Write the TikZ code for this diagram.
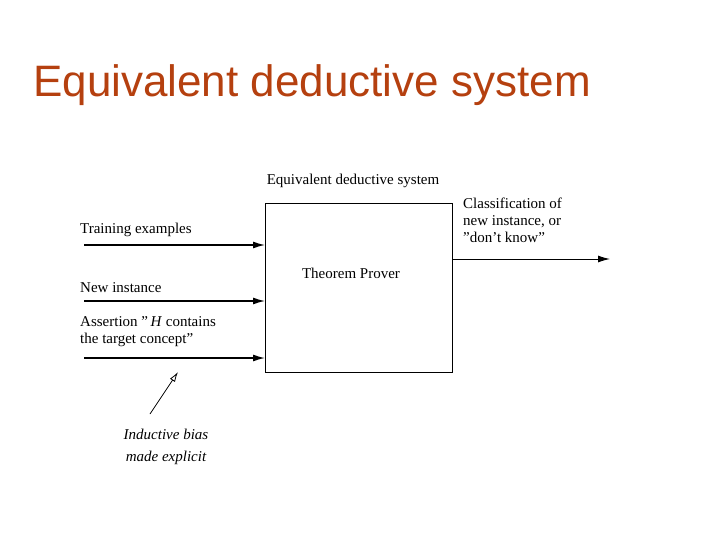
\documentclass[tikz,border=0pt]{standalone}
\usepackage{fontspec}
\setmainfont{Liberation Serif}
\newfontfamily\titlefont{Liberation Sans}
\usetikzlibrary{arrows.meta}
\definecolor{titlecol}{HTML}{B5400F}
\begin{document}
\begin{tikzpicture}[x=1pt,y=-1pt,
  lbl/.style={inner sep=0pt,font=\fontsize{15}{17}\selectfont},
  arr/.style={line width=1.4pt,-{Latex[length=12pt,width=7pt]}}]
\useasboundingbox (0,0) rectangle (720,540);
\node[anchor=west,inner sep=0pt,text=titlecol,font=\titlefont\fontsize{44}{50}\selectfont] (title) at (33,85) {Equivalent deductive system};
\node[draw,line width=1pt,minimum width=187pt,minimum height=169pt,anchor=north west] (box) at (265,203) {};
\node[lbl] (tp) at (351,273) {Theorem Prover};
\node[lbl] (eds) at (353,181) {Equivalent deductive system};
\node[lbl,anchor=west] (tr) at (80,230) {Training examples};
\node[lbl,anchor=west] (ni) at (80,288) {New instance};
\node[lbl,anchor=north west,align=left] (as) at (80,316) {Assertion "\,\textit{H} contains\\ the target concept"};
\node[lbl,anchor=north west,align=left] (cl) at (463,198) {Classification of\\new instance, or\\"don't know"};
\node[lbl,align=center,font=\itshape\fontsize{15}{22}\selectfont] (ib) at (166,447) {Inductive bias\\made explicit};
\coordinate (a1) at (84,245); \coordinate (b1) at (265,245);
\coordinate (a2) at (84,301); \coordinate (b2) at (265,301);
\coordinate (a3) at (84,358); \coordinate (b3) at (265,358);
\coordinate (o1) at (452,259); \coordinate (o2) at (610,259);
\coordinate (p1) at (150,414); \coordinate (p2) at (178,372);
\draw[arr] (a1) -- (b1);
\draw[arr] (a2) -- (b2);
\draw[arr] (a3) -- (b3);
\draw[arr,line width=1pt] (o1) -- (o2);
\draw[line width=0.8pt,-{Latex[open,length=10pt,width=6pt]}] (p1) -- (p2);
\end{tikzpicture}
\end{document}
